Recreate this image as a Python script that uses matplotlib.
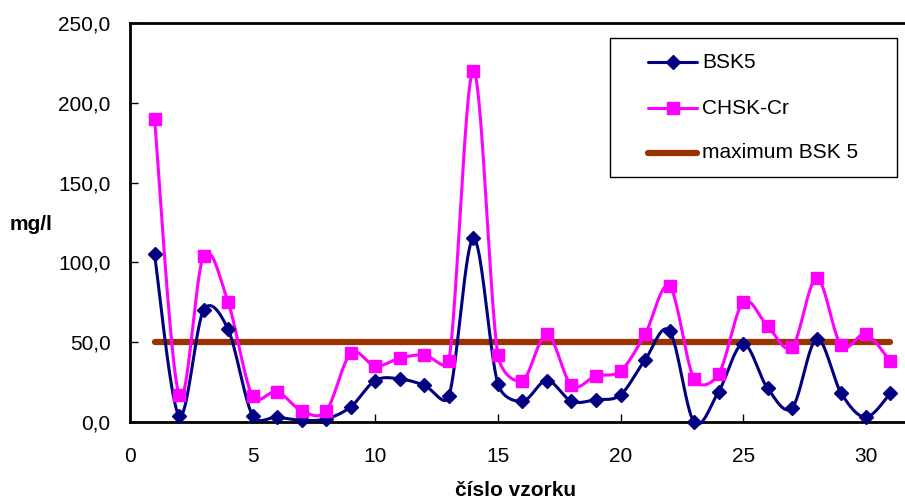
import numpy as np
import matplotlib
matplotlib.use("Agg")
import matplotlib.pyplot as plt
from matplotlib.ticker import FuncFormatter, MultipleLocator
from matplotlib.lines import Line2D
from matplotlib.patches import Rectangle

plt.rcParams['font.family'] = ['Liberation Sans', 'DejaVu Sans']

# sample numbers 1..31
samples = list(range(1, 32))
bsk5 = [105, 4, 70, 58, 4, 3, 1, 2, 9.5, 26, 27, 23, 16, 115, 24, 13, 26, 13, 14, 17,
        39, 57, 0, 19, 49, 21, 9, 52, 18, 3, 18]
chsk_cr = [190, 17, 104, 75, 16, 19, 7, 7, 43, 35, 40, 42, 38, 220, 42, 26, 55, 23, 29, 32,
           55, 85, 27, 30, 75, 60, 47, 90, 48, 55, 38]
bsk5_limit = 50.0

series_labels = ["BSK5", "CHSK-Cr", "maximum BSK 5"]
x_label = "číslo vzorku"
y_label = "mg/l"

W, H = 905, 499
AX_L, AX_T, AX_R, AX_B = 130, 23, 905, 422
XMAX, YMAX = 31.6, 250
SX = (AX_R - AX_L) / XMAX   # pixels per x unit
SY = (AX_B - AX_T) / YMAX   # pixels per y unit


def smooth(x, y, steps=40):
    """Smoothed line: Bezier segments, control arm 1/6 of the chord, capped at half the segment."""
    x = np.asarray(x, float)
    y = np.asarray(y, float)
    P = np.column_stack([x * SX, y * SY])          # work in screen units
    P = np.vstack([P[0], P, P[-1]])
    t = np.linspace(0, 1, steps)[:, None]
    pts = []
    for i in range(1, len(P) - 2):
        p0, p1, p2, p3 = P[i - 1], P[i], P[i + 1], P[i + 2]
        d12 = np.hypot(*(p2 - p1))
        d02 = np.hypot(*(p2 - p0))
        d13 = np.hypot(*(p3 - p1))
        f0 = 1 / 6 if d02 / 6 < d12 / 2 or d02 == 0 else d12 / (2 * d02)
        f1 = 1 / 6 if d13 / 6 < d12 / 2 or d13 == 0 else d12 / (2 * d13)
        c1 = p1 + f0 * (p2 - p0)
        c2 = p2 - f1 * (p3 - p1)
        b = (1 - t) ** 3 * p1 + 3 * (1 - t) ** 2 * t * c1 + 3 * (1 - t) * t ** 2 * c2 + t ** 3 * p2
        pts.append(b)
    pts = np.vstack(pts)
    return pts[:, 0] / SX, pts[:, 1] / SY


fig = plt.figure(figsize=(W / 100, H / 100), dpi=100)
ax = fig.add_axes([AX_L / W, (H - AX_B) / H, (AX_R - AX_L) / W, (AX_B - AX_T) / H])

navy = "#000080"
magenta = "#FF00FF"
brown = "#993300"

sx, sy = smooth(samples, bsk5)
ax.plot(sx, sy, color=navy, lw=2.2, zorder=3, clip_on=False)
ax.plot(samples, bsk5, ls='none', marker='D', ms=7, color=navy, zorder=4, clip_on=False)

cx, cy = smooth(samples, chsk_cr)
ax.plot(cx, cy, color=magenta, lw=2.2, zorder=3)
ax.plot(samples, chsk_cr, ls='none', marker='s', ms=8, color=magenta, zorder=4)

ax.plot([samples[0], samples[-1]], [bsk5_limit, bsk5_limit], color=brown, lw=4.5,
        solid_capstyle='round', zorder=2)

ax.set_xlim(0, XMAX)
ax.set_ylim(0, YMAX)
ax.xaxis.set_major_locator(MultipleLocator(5))
ax.yaxis.set_major_locator(MultipleLocator(50))
ax.yaxis.set_major_formatter(FuncFormatter(lambda v, p: f"{v:.1f}".replace('.', ',')))
ax.tick_params(direction='in', length=6, width=1, labelsize=15)
ax.tick_params(axis='x', pad=18)
ax.tick_params(axis='y', pad=14)
for s in ['left', 'bottom', 'top']:
    ax.spines[s].set_linewidth(2)
ax.spines['right'].set_visible(False)

fig.text(516 / W, 1 - 490 / H, x_label, ha='center', va='center', fontsize=15, fontweight='bold')
fig.text(10 / W, 1 - 224 / H, y_label, ha='left', va='center', fontsize=15, fontweight='bold')


# legend box drawn in figure pixel coordinates
def fx(px):
    return px / W


def fy(py):
    return 1 - py / H


fig.add_artist(Rectangle((fx(610), fy(177)), fx(897) - fx(610), fy(38) - fy(177),
                         transform=fig.transFigure, facecolor='white', edgecolor='black',
                         lw=1, zorder=5))
rows = [62, 108, 153]
styles = [
    dict(color=navy, lw=2.2, marker='D', ms=7),
    dict(color=magenta, lw=2.2, marker='s', ms=8),
    dict(color=brown, lw=4.5),
]
for yy, lab, st in zip(rows, series_labels, styles):
    fig.add_artist(Line2D([fx(648), fx(697)], [fy(yy), fy(yy)], transform=fig.transFigure,
                          color=st['color'], lw=st['lw'], solid_capstyle='round', zorder=6))
    if 'marker' in st:
        fig.add_artist(Line2D([fx(672.5)], [fy(yy)], transform=fig.transFigure, ls='none',
                              marker=st['marker'], ms=st['ms'], color=st['color'], zorder=7))
    fig.text(fx(702), fy(yy), lab, ha='left', va='center', fontsize=15, zorder=7)

fig.savefig("out.png", dpi=100)
